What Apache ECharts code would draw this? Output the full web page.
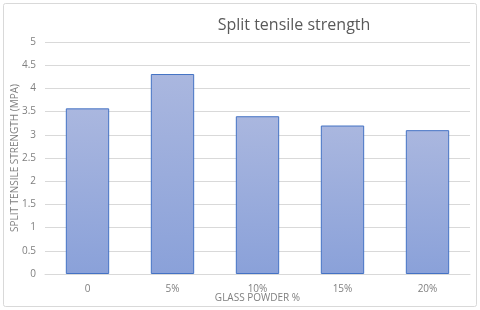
<!DOCTYPE html>
<html><head><meta charset="utf-8">
<script src="https://cdn.jsdelivr.net/npm/echarts@6/dist/echarts.min.js"></script>
<style>html,body{margin:0;padding:0;background:#fff}#c{width:480px;height:310px}</style>
</head><body><div id="c"></div>
<script>
const categories = ['0', '5%', '10%', '15%', '20%'];
const values = [3.57, 4.31, 3.4, 3.2, 3.1];
const yTicks = [0, 0.5, 1, 1.5, 2, 2.5, 3, 3.5, 4, 4.5, 5];

const chart = echarts.init(document.getElementById('c'), null, {renderer: 'canvas'});
chart.setOption({
  animation: false,
  backgroundColor: '#fff',
  graphic: [{type: 'rect', shape: {x: 3.5, y: 3.5, width: 473, height: 303, r: 2}, style: {fill: 'none', stroke: '#d9d9d9', lineWidth: 1}, silent: true}],
  title: {text: 'Split tensile strength', left: 289, top: 12, textAlign: 'center',
    textStyle: {fontFamily: 'Open Sans', fontSize: 16, fontWeight: 'normal', color: '#595959'}},
  grid: {left: 45, right: 10, top: 42, bottom: 36, outerBoundsMode: 'none', containLabel: false},
  xAxis: {type: 'category', data: categories,
    name: 'GLASS POWDER %', nameLocation: 'middle', nameGap: 19, nameMoveOverlap: false,
    nameTextStyle: {fontFamily: 'Open Sans', fontSize: 10, color: '#7f7f7f'},
    axisLine: {lineStyle: {color: '#d9d9d9'}}, axisTick: {show: false},
    axisLabel: {fontFamily: 'Open Sans', fontSize: 10, color: '#7f7f7f', margin: 10}},
  yAxis: {type: 'value', min: 0, max: 5, interval: 0.5,
    name: 'SPLIT TENSILE STRENGTH (MPA)', nameLocation: 'middle', nameGap: 25, nameMoveOverlap: false,
    nameTextStyle: {fontFamily: 'Open Sans', fontSize: 10, color: '#7f7f7f'},
    axisLine: {show: false}, axisTick: {show: false},
    axisLabel: {fontFamily: 'Open Sans', fontSize: 10, color: '#7f7f7f', margin: 9,
      formatter: v => yTicks.includes(v) ? String(v) : ''},
    splitLine: {lineStyle: {color: '#d9d9d9'}}},
  series: [{type: 'bar', data: values, barWidth: '51%',
    itemStyle: {borderColor: '#4472c4', borderWidth: 1,
      color: new echarts.graphic.LinearGradient(0, 0, 0, 1, [{offset: 0, color: '#aab7df'}, {offset: 1, color: '#8aa1d9'}])}}]
});
</script></body></html>
